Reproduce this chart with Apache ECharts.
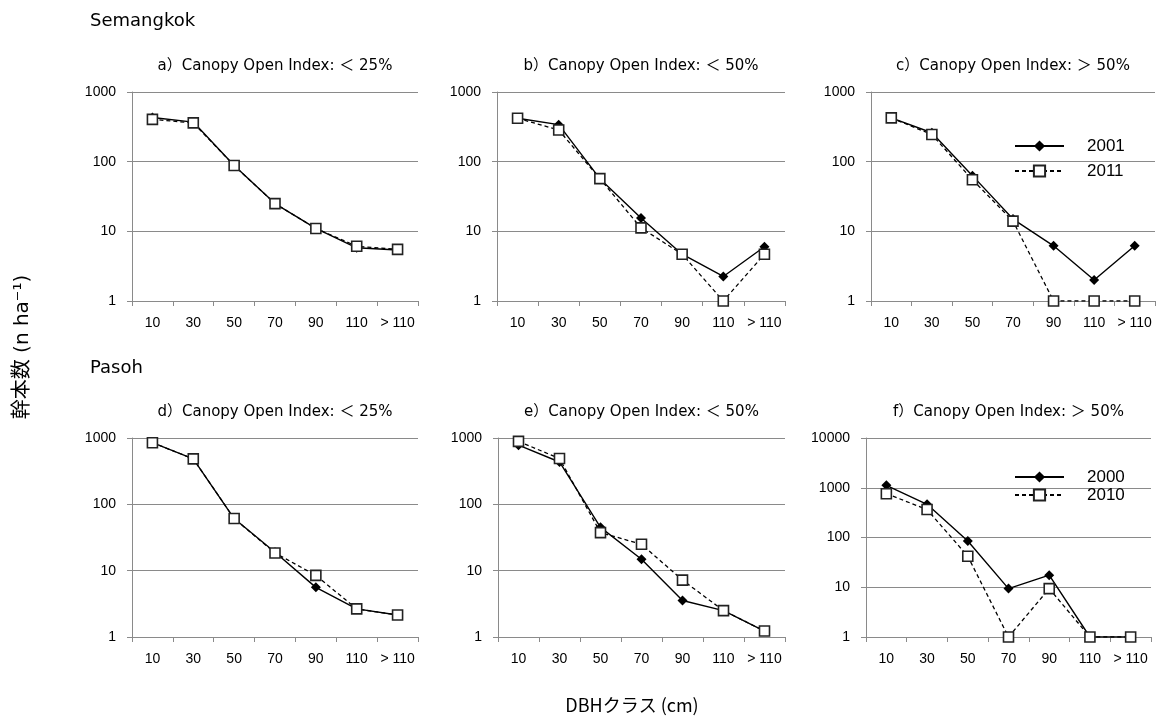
<!DOCTYPE html>
<html>
<head>
<meta charset="utf-8">
<script src="https://cdn.jsdelivr.net/npm/echarts@6/dist/echarts.min.js"></script>
<style>
  html, body { margin: 0; padding: 0; background: #fff; }
  #chart { width: 1157px; height: 722px; }
</style>
</head>
<body>
<div id="chart"></div>
<script>
// DBH classes
const categories = ['10', '30', '50', '70', '90', '110', '> 110']

// Semangkok (2001 / 2011)
const semA2001 = [430, 370, 88, 25, 11, 5.8, 5.4]
const semA2011 = [405, 360, 88, 25, 11, 6.1, 5.5]
const semB2001 = [420, 340, 57, 15.5, 4.7, 2.25, 6.0]
const semB2011 = [420, 285, 57, 11.2, 4.7, 1, 4.7]
const semC2001 = [425, 260, 63, 15, 6.2, 2, 6.2]
const semC2011 = [425, 245, 55, 14, 1, 1, 1]

// Pasoh (2000 / 2010)
const pasD2000 = [850, 485, 61, 19, 5.6, 2.65, 2.15]
const pasD2010 = [850, 485, 61, 18.5, 8.5, 2.65, 2.15]
const pasE2000 = [780, 435, 45, 14.9, 3.55, 2.5, 1.23]
const pasE2010 = [890, 490, 37.5, 25, 7.2, 2.5, 1.23]
const pasF2000 = [1120, 465, 85, 9.4, 17.5, 1, 1]
const pasF2010 = [760, 365, 42, 1, 9.4, 1, 1]

const panelTitles = [
  'a）Canopy Open Index: ＜ 25%',
  'b）Canopy Open Index: ＜ 50%',
  'c）Canopy Open Index: ＞ 50%',
  'd）Canopy Open Index: ＜ 25%',
  'e）Canopy Open Index: ＜ 50%',
  'f）Canopy Open Index: ＞ 50%',
]
const yMax = [1000, 1000, 1000, 1000, 1000, 10000]

const myChart = echarts.init(document.getElementById('chart'))

const gray = '#8a8a8a'
const jpFont = '"Noto Sans CJK JP", "Noto Sans", sans-serif'
const wideFont = '"DejaVu Sans", "Noto Sans CJK JP", sans-serif'
const numFont = '"Liberation Sans", Arial, sans-serif'

// plot boxes
const grids = [
  { left: 132, top: 92, width: 286, height: 209 },
  { left: 497, top: 92, width: 288, height: 209 },
  { left: 871, top: 92, width: 284, height: 209 },
  { left: 132, top: 438, width: 286, height: 199 },
  { left: 498, top: 438, width: 287, height: 199 },
  { left: 866, top: 438, width: 285, height: 199 },
]

const xAxis = grids.map((g, i) => ({
  type: 'category',
  gridIndex: i,
  data: categories,
  boundaryGap: true,
  axisLine: { onZero: false, lineStyle: { color: gray, width: 1 } },
  axisTick: { show: true, length: 5, lineStyle: { color: gray } },
  axisLabel: { color: '#000', fontSize: 14, fontFamily: numFont, margin: 15, interval: 0 },
  splitLine: { show: false },
}))

const yAxis = grids.map((g, i) => ({
  type: 'log',
  logBase: 10,
  gridIndex: i,
  min: 1,
  max: yMax[i],
  axisLine: { show: true, lineStyle: { color: gray, width: 1 } },
  axisTick: { show: true, length: 5, lineStyle: { color: gray } },
  axisLabel: {
    color: '#000',
    fontSize: 14,
    fontFamily: numFont,
    margin: 16,
    formatter: (v) => String(Math.round(v)),
  },
  splitLine: { show: true, lineStyle: { color: gray, width: 1 } },
}))

const solid = (name, data, i) => ({
  name: name,
  type: 'line',
  xAxisIndex: i,
  yAxisIndex: i,
  data: data,
  symbol: 'diamond',
  symbolSize: 10,
  itemStyle: { color: '#000' },
  lineStyle: { color: '#000', width: 1.4, type: 'solid' },
  z: 2,
})

const dashed = (name, data, i) => ({
  name: name,
  type: 'line',
  xAxisIndex: i,
  yAxisIndex: i,
  data: data,
  symbol: 'rect',
  symbolSize: 10,
  itemStyle: { color: '#fff', borderColor: '#222', borderWidth: 1.6 },
  lineStyle: { color: '#000', width: 1.3, type: [4, 3] },
  z: 3,
})

const series = [
  solid('2001', semA2001, 0), dashed('2011', semA2011, 0),
  solid('2001', semB2001, 1), dashed('2011', semB2011, 1),
  solid('2001', semC2001, 2), dashed('2011', semC2011, 2),
  solid('2000', pasD2000, 3), dashed('2010', pasD2010, 3),
  solid('2000', pasE2000, 4), dashed('2010', pasE2010, 4),
  solid('2000', pasF2000, 5), dashed('2010', pasF2010, 5),
]

const title = grids.map((g, i) => ({
  text: panelTitles[i],
  left: g.left + g.width / 2,
  textAlign: 'center',
  top: g.top - 33,
  padding: 0,
  textStyle: { fontSize: 15, fontWeight: 'normal', color: '#000', fontFamily: wideFont },
}))
title.push({
  text: 'Semangkok', left: 90, top: 12, padding: 0,
  textStyle: { fontSize: 18, fontWeight: 'normal', color: '#000', fontFamily: wideFont },
})
title.push({
  text: 'Pasoh', left: 90, top: 359, padding: 0,
  textStyle: { fontSize: 18, fontWeight: 'normal', color: '#000', fontFamily: wideFont },
})

const legendCommon = {
  orient: 'vertical',
  itemWidth: 49,
  itemHeight: 14,
  padding: 0,
  selectedMode: false,
  textStyle: { fontSize: 17, lineHeight: 18, color: '#000', fontFamily: numFont, padding: [0, 0, 0, 18] },
}

const option = {
  backgroundColor: '#fff',
  animation: false,
  title: title,
  legend: [
    Object.assign({}, legendCommon, { data: ['2001', '2011'], left: 1014, top: 137, itemGap: 7 }),
    Object.assign({}, legendCommon, { data: ['2000', '2010'], left: 1014, top: 468, itemGap: 0 }),
  ],
  grid: grids,
  xAxis: xAxis,
  yAxis: yAxis,
  series: series,
  graphic: [
    {
      type: 'text',
      x: 23,
      y: 347,
      rotation: Math.PI / 2,
      style: {
        text: '幹本数 (n ha⁻¹)',
        fontSize: 20,
        fontFamily: wideFont,
        fill: '#000',
        align: 'center',
        verticalAlign: 'middle',
      },
    },
    {
      type: 'text',
      x: 632,
      y: 705,
      style: {
        text: 'DBHクラス (cm)',
        fontSize: 18,
        fontFamily: jpFont,
        fill: '#000',
        align: 'center',
        verticalAlign: 'middle',
      },
    },
  ],
}

myChart.setOption(option)
window.addEventListener('resize', () => myChart.resize())
</script>
</body>
</html>
